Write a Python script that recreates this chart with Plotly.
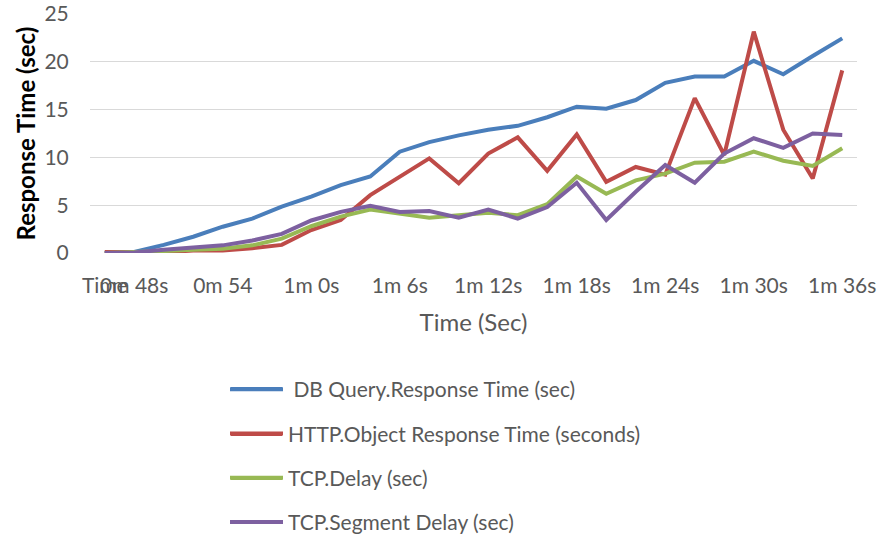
import plotly.graph_objects as go

categories = ["Time", "0m 48s", "0m 50s", "0m 52s", "0m 54", "0m 56s", "0m 58s",
              "1m 0s", "1m 2s", "1m 4s", "1m 6s", "1m 8s", "1m 10s", "1m 12s",
              "1m 14s", "1m 16s", "1m 18s", "1m 20s", "1m 22s", "1m 24s",
              "1m 26s", "1m 28s", "1m 30s", "1m 32s", "1m 34s", "1m 36s"]

db_query = [0.0, 0.1, 0.85, 1.7, 2.75, 3.6, 4.85, 5.9, 7.1, 8.0, 10.6, 11.6, 12.3,
            12.9, 13.3, 14.2, 15.3, 15.1, 16.0, 17.8, 18.45, 18.45, 20.1, 18.7, 20.6, 22.45]
http_obj = [0.1, 0.1, 0.1, 0.25, 0.25, 0.5, 0.85, 2.4, 3.45, 6.05, 8.0, 9.9, 7.3,
            10.4, 12.1, 8.6, 12.4, 7.45, 9.0, 8.2, 16.2, 10.25, 23.15, 12.9, 7.8, 19.1]
tcp_delay = [0.0, 0.05, 0.2, 0.35, 0.45, 0.8, 1.5, 2.8, 3.8, 4.55, 4.15, 3.7, 3.95,
             4.2, 3.95, 5.1, 8.0, 6.2, 7.6, 8.3, 9.45, 9.55, 10.6, 9.65, 9.1, 10.95]
tcp_segment = [0.0, 0.05, 0.35, 0.6, 0.8, 1.3, 2.0, 3.4, 4.3, 4.95, 4.3, 4.4, 3.7,
               4.55, 3.6, 4.8, 7.35, 3.45, 6.4, 9.2, 7.35, 10.4, 12.0, 11.0, 12.5, 12.35]

series_names = ["\u00a0DB Query.Response Time (sec)", "HTTP.Object Response Time (seconds)",
                "TCP.Delay (sec)", "TCP.Segment Delay (sec)"]
series_values = [db_query, http_obj, tcp_delay, tcp_segment]
colors = ["#4A7EBB", "#BE4B48", "#98B954", "#7D60A0"]

tick_labels = ["Time", "0m 48s", "0m 54", "1m 0s", "1m 6s", "1m 12s",
               "1m 18s", "1m 24s", "1m 30s", "1m 36s"]
y_ticks = [0, 5, 10, 15, 20, 25]

fig = go.Figure()
for i, (name, vals, col) in enumerate(zip(series_names, series_values, colors)):
    fig.add_trace(go.Scatter(x=categories, y=vals, mode="lines", name=name,
                             line=dict(color=col, width=4), legendgroup=f"g{i}"))

W, H = 879, 535
L, R, T, B = 90, 22, 14, 282
PW, PH = W - L - R, H - T - B
font_family = "Lato"

# longer legend swatches (Excel style), drawn over the legend's own short ones
swatch_rows = [389, 434, 478, 522]
shapes = []
for col, yrow in zip(colors, swatch_rows):
    yp = (H - B - yrow) / PH
    shapes.append(dict(type="line", xref="paper", yref="paper",
                       x0=(231 - L) / PW, x1=(282 - L) / PW, y0=yp, y1=yp,
                       line=dict(color=col, width=4), layer="above"))

fig.update_layout(
    width=W, height=H,
    margin=dict(l=L, r=R, t=T, b=B, autoexpand=False),
    paper_bgcolor="white", plot_bgcolor="white",
    font=dict(family=font_family, size=21, color="#595959"),
    showlegend=True,
    legend=dict(xref="container", yref="container", x=225 / W, y=1 - 369 / H,
                xanchor="left", yanchor="top", orientation="v",
                font=dict(family=font_family, size=21, color="#595959"),
                tracegroupgap=14, itemwidth=53, bgcolor="rgba(0,0,0,0)"),
    xaxis=dict(type="category", categoryorder="array", categoryarray=categories,
               range=[-0.5, len(categories) - 0.5], automargin=False,
               tickmode="array", tickvals=tick_labels, ticktext=tick_labels,
               tickangle=0, showgrid=False, showline=False, zeroline=False,
               ticks="outside", ticklen=14, tickcolor="rgba(0,0,0,0)",
               ticklabeloverflow="allow",
               title=dict(text="Time (Sec)", standoff=17,
                          font=dict(family=font_family, size=24, color="#595959"))),
    yaxis=dict(range=[0, 25], tickmode="array", tickvals=y_ticks, automargin=False,
               showgrid=True, gridcolor="#D9D9D9", gridwidth=1.3,
               zeroline=False, showline=False, ticklabeloverflow="allow",
               ticks="outside", ticklen=16, tickcolor="rgba(0,0,0,0)"),
    annotations=[dict(text="<b>Response Time (sec)</b>", textangle=-90,
                      xref="paper", yref="paper", x=(25 - L) / PW, y=0.5,
                      xanchor="center", yanchor="middle", showarrow=False,
                      font=dict(family=font_family, size=24, color="#000000"))],
    shapes=shapes,
)

fig.write_html("out.html", config={"displayModeBar": False},
               post_script="document.body.style.margin='0';")
